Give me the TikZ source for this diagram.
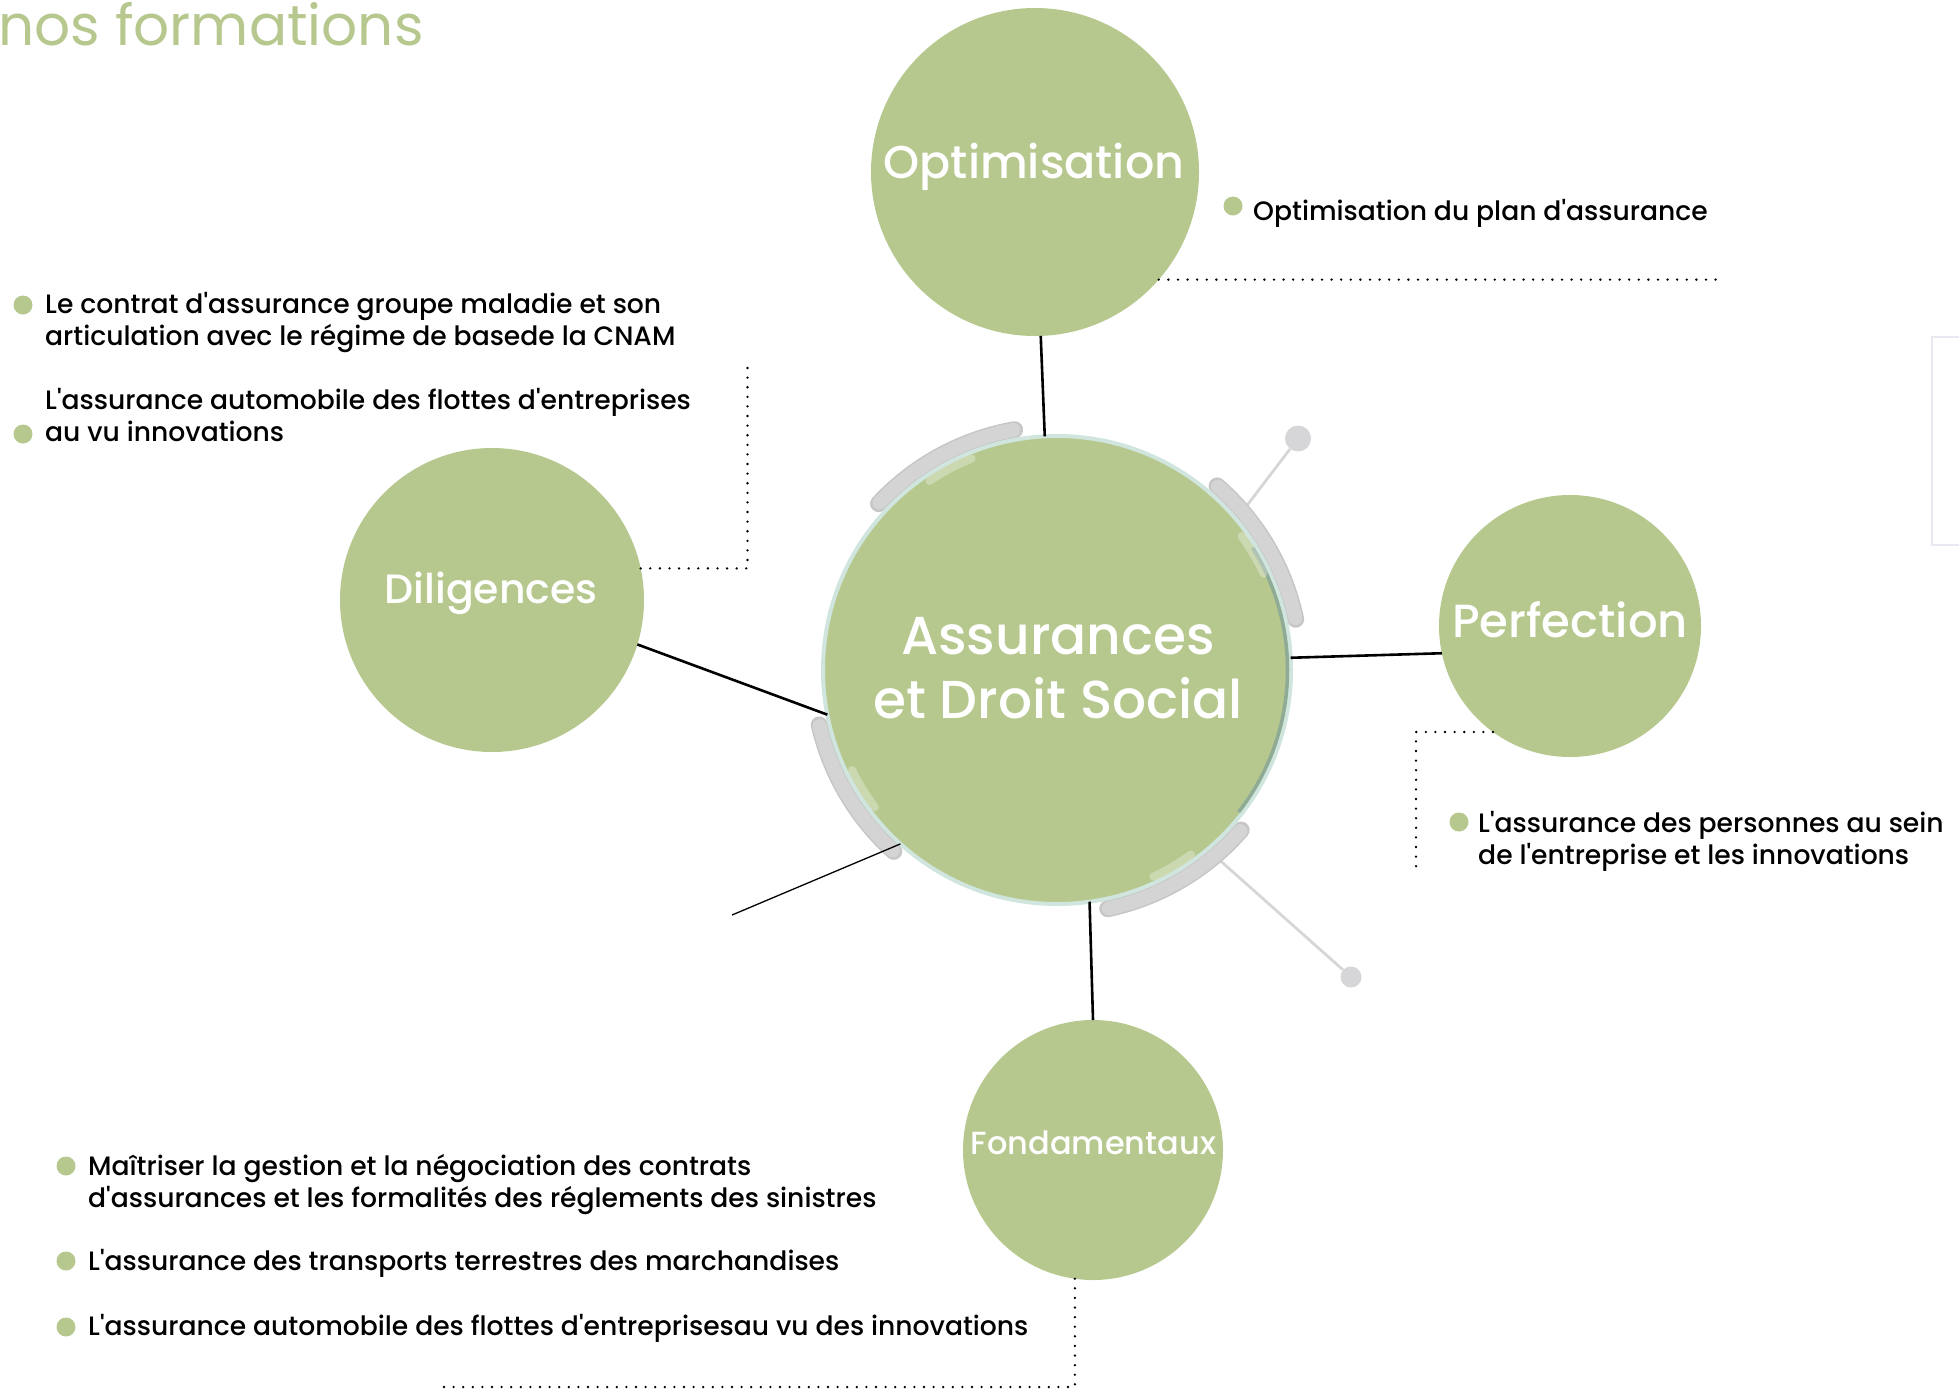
\documentclass[tikz,border=0pt]{standalone}
\usepackage{fontspec}
\setmainfont{Poppins Medium}[Ligatures=TeXOff]
\newfontfamily\popreg{Poppins}[Ligatures=TeXOff]
\usetikzlibrary{calc}
\definecolor{leaf}{RGB}{182,200,142}
\definecolor{capgray}{RGB}{198,198,198}
\definecolor{caplight}{RGB}{212,212,212}
\definecolor{ballgray}{RGB}{214,214,216}
\definecolor{rimteal}{RGB}{207,229,221}
\definecolor{rimdark}{RGB}{143,171,150}
\definecolor{bracketgray}{RGB}{232,232,240}
\pgfdeclarelayer{bg}
\pgfsetlayers{bg,main}
\begin{document}
\begin{tikzpicture}[x=1pt,y=1pt,
  bubble/.style={circle, fill=leaf, draw=none, inner sep=0pt, outer sep=0pt},
  bubtext/.style={text=white, anchor=base, inner sep=0pt},
  bodyline/.style={anchor=base west, inner sep=0pt, font=\fontsize{26.6}{32}\selectfont},
  bullet/.style={circle, fill=leaf, minimum size=19pt, inner sep=0pt},
  link/.style={line width=2.6pt, black},
  thinlink/.style={line width=1.3pt, black},
  dotline/.style={line width=2.6pt, line cap=round, dash pattern=on 0pt off 9.6pt},
  capsule/.style={line width=17pt, line cap=round, draw=capgray},
  capcore/.style={line width=14pt, line cap=round, draw=caplight},
  ballline/.style={line width=2.8pt, draw=ballgray},
  ball/.style={circle, fill=ballgray, inner sep=0pt},
  shine/.style={white, line cap=round},
]
\useasboundingbox (0,0) rectangle (1959,-1390);

% title
\node[anchor=base west, inner sep=0pt, text=leaf, font=\popreg\fontsize{56.5}{56.5}\selectfont] (title) at (-2,-45) {nos formations};

% circles
\node[bubble, minimum size=328pt] (opt) at (1035,-172) {};
\node[bubble, minimum size=304pt] (dil) at (492,-600) {};
\node[bubble, minimum size=262pt] (perf) at (1570,-626) {};
\node[bubble, minimum size=260pt] (fon) at (1093,-1150) {};
\node[bubble, minimum size=468pt, draw=rimteal, line width=4pt] (ctr) at (1057,-670) {};

% balls
\node[ball, minimum size=26pt] (b1) at (1298,-438.5) {};
\node[ball, minimum size=21pt] (b2) at (1351,-977) {};

\begin{pgfonlayer}{bg}
  \draw[ballline] (ctr.40) -- (b1);
  \draw[ballline] (ctr.-50) -- (b2);
  \draw[capsule] (ctr.center) ++(100:244) arc[start angle=100, end angle=137, radius=244];
  \draw[capsule] (ctr.center) ++(12:244) arc[start angle=12, end angle=49, radius=244];
  \draw[capsule] (ctr.center) ++(193:244) arc[start angle=193, end angle=228, radius=244];
  \draw[capsule] (ctr.center) ++(-78:244) arc[start angle=-78, end angle=-41, radius=244];
  \draw[capcore] (ctr.center) ++(100.3:244) arc[start angle=100.3, end angle=136.7, radius=244];
  \draw[capcore] (ctr.center) ++(12.3:244) arc[start angle=12.3, end angle=48.7, radius=244];
  \draw[capcore] (ctr.center) ++(193.3:244) arc[start angle=193.3, end angle=227.7, radius=244];
  \draw[capcore] (ctr.center) ++(-77.7:244) arc[start angle=-77.7, end angle=-41.3, radius=244];
\end{pgfonlayer}

% glass rim details
\draw[rimdark, line width=3.5pt] (ctr.center) ++(-38:230.5) arc[start angle=-38, end angle=32, radius=230.5];
\draw[shine, line width=8pt, opacity=0.3] (ctr.center) ++(112:228) arc[start angle=112, end angle=124, radius=228];
\draw[shine, line width=8pt, opacity=0.3] (ctr.center) ++(25:228) arc[start angle=25, end angle=36, radius=228];
\draw[shine, line width=8pt, opacity=0.3] (ctr.center) ++(206:228) arc[start angle=206, end angle=217, radius=228];
\draw[shine, line width=8pt, opacity=0.3] (ctr.center) ++(-65:228) arc[start angle=-65, end angle=-54, radius=228];

% circle labels
\node[bubtext, font=\fontsize{46}{46}\selectfont] (optl) at (1034,-178) {Optimisation};
\node[bubtext, font=\fontsize{53.4}{53.4}\selectfont] (ctrl1) at (1058,-654) {Assurances};
\node[bubtext, font=\fontsize{53.4}{53.4}\selectfont] (ctrl2) at (1058,-718) {et Droit Social};
\node[bubtext, font=\fontsize{46.5}{46.5}\selectfont] (perfl) at (1570,-637) {Perfection};
\node[bubtext, font=\fontsize{41}{41}\selectfont] (dill) at (491,-603) {Diligences};
\node[bubtext, font=\fontsize{32}{32}\selectfont] (fonl) at (1093.5,-1154) {Fondamentaux};

% connectors
\draw[link] (opt.-88.6) -- (ctr.93.9);
\draw[link] (ctr.3.9) -- (perf.192.2);
\draw[link] (dil.-17.1) -- (ctr.191.5);
\draw[link] (ctr.-82.2) -- (fon.90.9);
\coordinate (llend) at (732,-915);
\draw[thinlink] (ctr.228.9) -- (llend);

% dotted leaders
\coordinate (optend) at (1719,-281);
\draw[dotline] (opt.-41.7) -- (opt.-41.7 -| optend);
\coordinate (dilend) at (747.5,-367);
\draw[dotline] (dil.12.5) -| (dilend);
\coordinate (perfend) at (1416,-867);
\draw[dotline] (perf.234) -| (perfend);
\coordinate (fonend) at (437,-1387);
\draw[dotline] (fon.-98.3) |- (fonend);

% faint bracket at right edge
\draw[bracketgray, line width=2.5pt] (1959,-337) -- (1932,-337) -- (1932,-545) -- (1959,-545);

% Optimisation item
\node[bullet] (bo) at (1233,-206) {};
\node[bodyline] (to) at (1253,-220) {Optimisation du plan d'assurance};

% Diligences items
\node[bullet] (bd1) at (23,-305) {};
\node[bodyline] (td1a) at (45,-313) {Le contrat d'assurance groupe maladie et son};
\node[bodyline] (td1b) at (45,-345) {articulation avec le régime de basede la CNAM};
\node[bullet] (bd2) at (23,-434) {};
\node[bodyline] (td2a) at (45,-409) {L'assurance automobile des flottes d'entreprises};
\node[bodyline] (td2b) at (45,-441) {au vu innovations};

% Perfection item
\node[bullet] (bp) at (1459,-822) {};
\node[bodyline] (tpa) at (1478,-832) {L'assurance des personnes au sein};
\node[bodyline] (tpb) at (1478,-864) {de l'entreprise et les innovations};

% Fondamentaux items
\node[bullet] (bf1) at (66,-1166) {};
\node[bodyline] (tf1a) at (88,-1175) {Maîtriser la gestion et la négociation des contrats};
\node[bodyline] (tf1b) at (88,-1207) {d'assurances et les formalités des réglements des sinistres};
\node[bullet] (bf2) at (66,-1261) {};
\node[bodyline] (tf2) at (88,-1270) {L'assurance des transports terrestres des marchandises};
\node[bullet] (bf3) at (66,-1327) {};
\node[bodyline] (tf3) at (88,-1335) {L'assurance automobile des flottes d'entreprisesau vu des innovations};
\end{tikzpicture}
\end{document}
